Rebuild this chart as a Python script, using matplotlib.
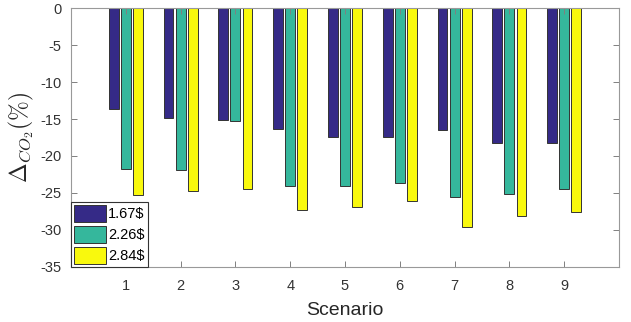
import numpy as np
import matplotlib
matplotlib.use("Agg")
import matplotlib.pyplot as plt

plt.rcParams['font.family'] = ['Liberation Sans', 'DejaVu Sans']
plt.rcParams['mathtext.fontset'] = 'cm'
plt.rcParams['axes.unicode_minus'] = False

scenarios = [1, 2, 3, 4, 5, 6, 7, 8, 9]
labels = ['1.67$', '2.26$', '2.84$']
p167 = [-13.6, -14.8, -15.1, -16.4, -17.5, -17.5, -16.5, -18.2, -18.2]
p226 = [-21.7, -21.9, -15.3, -24.1, -24.0, -23.6, -25.6, -25.1, -24.4]
p284 = [-25.3, -24.7, -24.5, -27.3, -26.9, -26.1, -29.6, -28.1, -27.6]
colors = ['#352a87', '#35b79c', '#f9f90d']

fig = plt.figure(figsize=(6.31, 3.22), dpi=100)
ax = fig.add_axes([0.1125, 0.171, 0.8685, 0.804])

x = np.array(scenarios)
w = 0.18
for k, (vals, lab) in enumerate(zip([p167, p226, p284], labels)):
    ax.bar(x + (k - 1) * 0.22, vals, w, color=colors[k], edgecolor='#333333',
           linewidth=0.7, label=lab)

ax.set_xlim(0, 10)
ax.set_ylim(-35, 0)
ax.set_xticks(scenarios)
ax.set_yticks(np.arange(-35, 1, 5))
ax.tick_params(direction='in', top=True, right=True, length=4, width=0.7,
               colors='#808080', labelcolor='#333333', labelsize=10.5)
ax.tick_params(axis='x', pad=9)
ax.tick_params(axis='y', pad=7)
for s in ax.spines.values():
    s.set_color('#999999')
    s.set_linewidth(0.8)

ax.set_xlabel('Scenario', fontsize=14, color='#262626', labelpad=6)
ax.set_ylabel(r'$\Delta_{CO_2}(\%)$', fontsize=17, color='#262626', labelpad=3)

leg = ax.legend(loc='lower left', borderaxespad=0, fontsize=10.5, handlelength=2.2,
                handleheight=1.4, handletextpad=0.15, labelspacing=0.3,
                borderpad=0.2, fancybox=False, framealpha=1)
leg.get_frame().set_edgecolor('#333333')
leg.get_frame().set_linewidth(0.8)

plt.savefig('out.png', dpi=100)
